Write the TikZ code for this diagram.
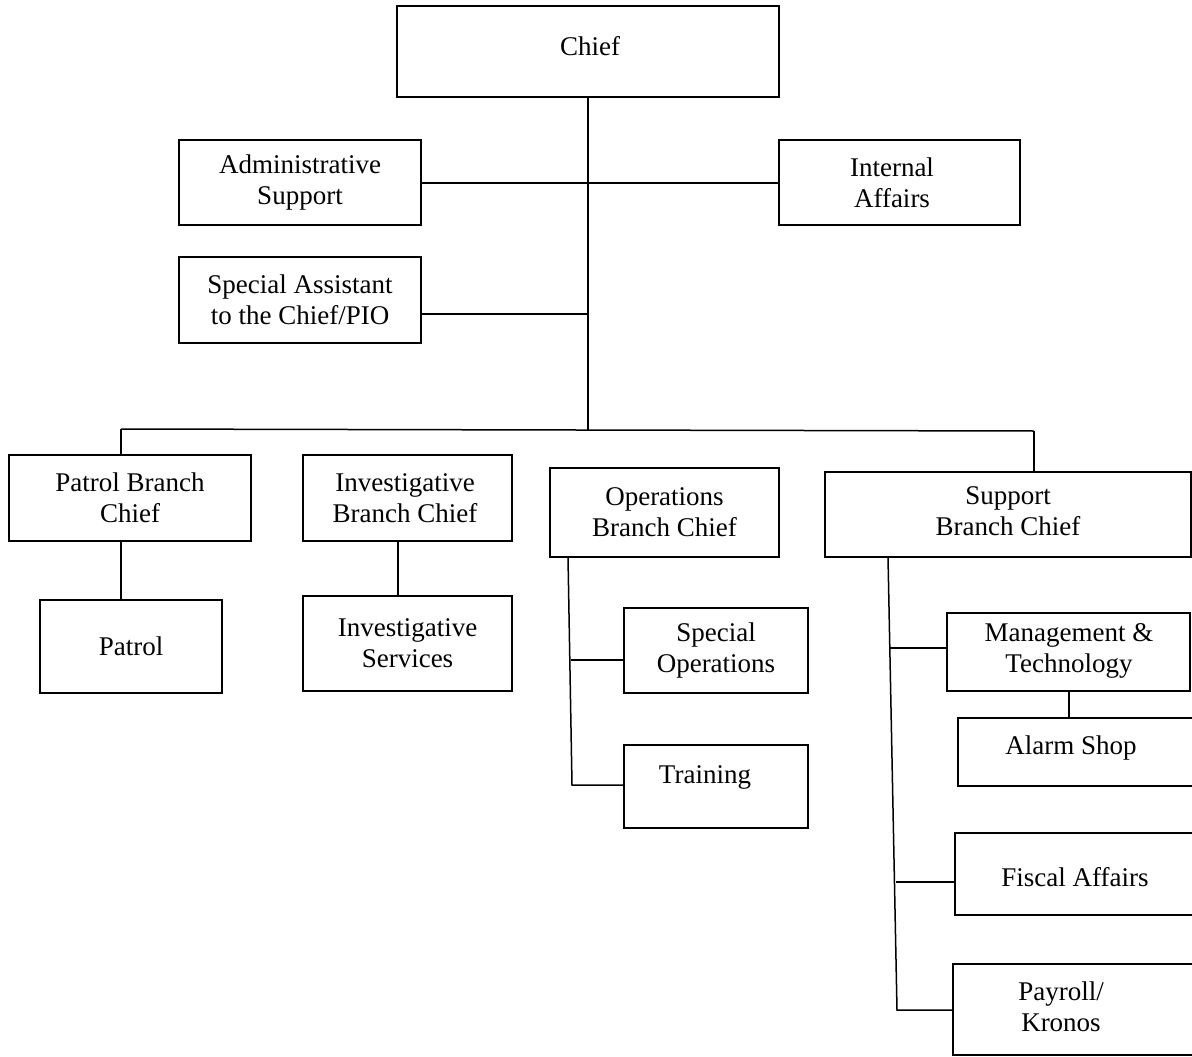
\documentclass[tikz,border=0pt]{standalone}
\usepackage{fontspec}
\setmainfont{Liberation Serif}
\newcommand{\orgfs}{\fontsize{27}{31}\selectfont}
\tikzset{
  orgbox/.style={draw, line width=1.5pt, inner sep=0pt, align=center, font=\orgfs},
  orgtxt/.style={inner sep=0pt, align=center, font=\orgfs},
  orgline/.style={line width=1.5pt}
}
\begin{document}
\begin{tikzpicture}[x=1pt,y=-1pt]
\useasboundingbox (0,0) rectangle (1192,1057);
\clip (0,0) rectangle (1192,1057);
\node[orgbox, minimum width=382pt, minimum height=91pt] (chief) at (588,51.5) {};
\node[orgtxt] (chieftxt) at (590,46) {Chief};
\node[orgbox, minimum width=242pt, minimum height=85pt] (admin) at (300,182.5) {Administrative\\Support};
\node[orgbox, minimum width=241pt, minimum height=85pt] (ia) at (899.5,182.5) {};
\node[orgtxt] (iatxt) at (892,182.5) {Internal\\Affairs};
\node[orgbox, minimum width=242pt, minimum height=86pt] (spa) at (300,300) {Special Assistant\\to the Chief/PIO};

\node[orgbox, minimum width=242pt, minimum height=86pt] (patrolbc) at (130,498) {Patrol Branch\\Chief};
\node[orgbox, minimum width=209pt, minimum height=86pt] (invbc) at (407.5,498) {};
\node[orgtxt] (invbctxt) at (405,498) {Investigative\\Branch Chief};
\node[orgbox, minimum width=229pt, minimum height=89pt] (opsbc) at (664.5,512.5) {Operations\\Branch Chief};
\node[orgbox, minimum width=366pt, minimum height=85pt] (supbc) at (1008,514.5) {};
\node[orgtxt] (supbctxt) at (1008,511) {Support\\Branch Chief};

\node[orgbox, minimum width=182pt, minimum height=93pt] (patrol) at (131,646.5) {Patrol};
\node[orgbox, minimum width=209pt, minimum height=95pt] (invs) at (407.5,643.5) {Investigative\\Services};
\node[orgbox, minimum width=184pt, minimum height=85pt] (specops) at (716,650.5) {};
\node[orgtxt] (specopstxt) at (716,651) {Special\\Operations};
\node[orgbox, minimum width=184pt, minimum height=83pt] (train) at (716,786.5) {};
\node[orgtxt, anchor=base] (traintxt) at (705,783) {Training};

\node[orgbox, minimum width=243pt, minimum height=78pt] (mt) at (1068.5,652) {};
\node[orgtxt] (mttxt) at (1069,651) {Management \&\\Technology};
\node[orgbox, minimum width=250pt, minimum height=68pt] (alarm) at (1083,752) {};
\node[orgtxt] (alarmtxt) at (1071,748) {Alarm Shop};
\node[orgbox, minimum width=250pt, minimum height=82pt] (fiscal) at (1080,874) {};
\node[orgtxt] (fiscaltxt) at (1075,877) {Fiscal Affairs};
\node[orgbox, minimum width=252pt, minimum height=91pt] (payroll) at (1079,1009.5) {};
\node[orgtxt] (payrolltxt) at (1061,1007) {Payroll/\\Kronos};

% connectors
\coordinate (jA) at (588,183);
\coordinate (jB) at (588,314);
\coordinate (jC) at (588,430);
\coordinate (busL) at (121,429);
\coordinate (busR) at (1034,431);
\draw[orgline] (chief.south) -- (jC);
\draw[orgline] (admin.east |- jA) -- (ia.west |- jA);
\draw[orgline] (spa.east |- jB) -- (jB);
\draw[orgline] (busL) -- (busR);
\draw[orgline] (busL) -- (busL |- patrolbc.north);
\draw[orgline] (busR) -- (busR |- supbc.north);
\draw[orgline] (patrolbc.south -| 121,0) -- (patrol.north -| 121,0);
\draw[orgline] (398,541) coordinate (invA) -- (invA |- invs.north);

% operations
\coordinate (opsTop) at (568,557);
\coordinate (opsBot) at (572,785);
\coordinate (opsMid) at (571,660);
\draw[orgline] (opsTop) -- (opsBot) -- (opsBot -| train.west);
\draw[orgline] (opsMid) -- (opsMid -| specops.west);

% support
\coordinate (supTop) at (888,557);
\coordinate (supBot) at (897,1010);
\coordinate (supM1) at (890,648);
\coordinate (supM2) at (896,882);
\draw[orgline] (supTop) -- (supBot) -- (supBot -| payroll.west);
\draw[orgline] (supM1) -- (supM1 -| mt.west);
\draw[orgline] (supM2) -- (supM2 -| fiscal.west);
\draw[orgline] (mt.south -| 1069,0) -- (alarm.north -| 1069,0);
\end{tikzpicture}
\end{document}
